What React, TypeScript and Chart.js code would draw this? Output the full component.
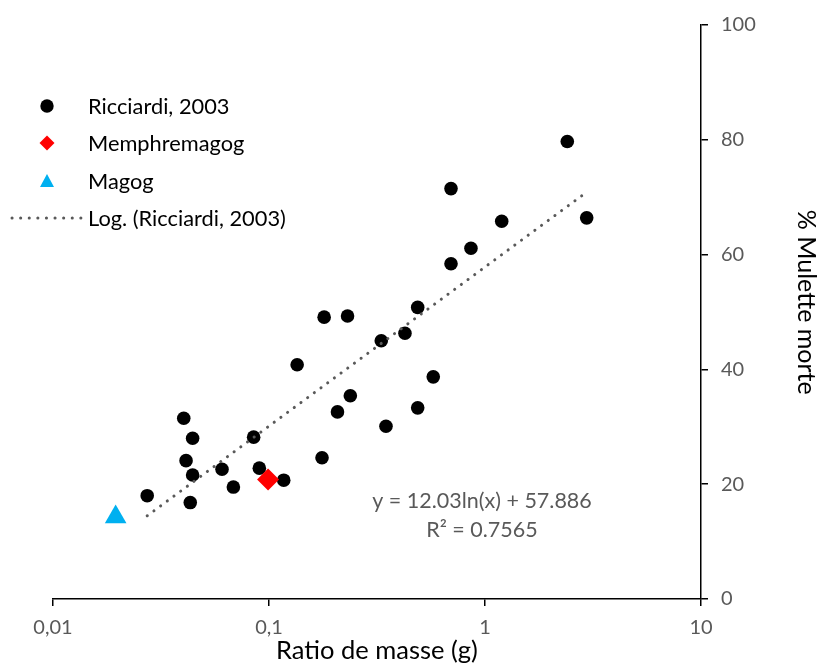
import React, { useEffect, useRef } from "react";
import { Chart, registerables } from "chart.js";

Chart.register(...registerables);

// ---- Data ----
const ricciardiX = [0.0273, 0.0403, 0.0443, 0.0413, 0.0443, 0.0432, 0.0606, 0.0684, 0.0849, 0.0902, 0.117, 0.135, 0.176, 0.180, 0.2075, 0.231, 0.238, 0.331, 0.348, 0.426, 0.488, 0.488, 0.576, 0.696, 0.696, 0.861, 1.195, 2.404, 2.957];
const ricciardiY = [18.0, 31.5, 28.0, 24.1, 21.6, 16.8, 22.6, 19.5, 28.2, 22.8, 20.7, 40.8, 24.6, 49.1, 32.6, 49.3, 35.4, 45.0, 30.1, 46.3, 50.8, 33.3, 38.7, 58.4, 71.5, 61.1, 65.8, 79.7, 66.4];
const memphremagogX = [0.099];
const memphremagogY = [20.8];
const magogX = [0.0195];
const magogY = [14.3];
const trendX = [0.0273, 2.96];
const trendY = [14.5, 70.9];
const xTickValues = [0.01, 0.1, 1, 10];
const equationText = "y = 12.03ln(x) + 57.886";
const r2Text = "R² = 0.7565";
const legendLabels = ["Ricciardi, 2003", "Memphremagog", "Magog", "Log. (Ricciardi, 2003)"];
const xTitle = "Ratio de masse (g)";
const yTitle = "% Mulette morte";

const FONT = "Lato, 'Open Sans', sans-serif";
const GRAY = "#595959";
const BLUE = "#00B0F0";
const RED = "#FF0000";

const toPts = (xs: number[], ys: number[]) => xs.map((x, i) => ({ x, y: ys[i] }));

const overlayPlugin = {
  id: "overlay",
  afterDraw(chart: any) {
    const ctx = chart.ctx as CanvasRenderingContext2D;
    const ca = chart.chartArea;
    ctx.save();
    // Legend
    const lx = 47;
    const tx = 88;
    const rows = [106, 143, 181, 218];
    ctx.font = `21.8px ${FONT}`;
    ctx.fillStyle = "#000";
    ctx.textBaseline = "middle";
    ctx.textAlign = "left";
    legendLabels.forEach((t, i) => ctx.fillText(t, tx, rows[i] + 1));
    // circle
    ctx.beginPath();
    ctx.fillStyle = "#000";
    ctx.arc(lx, rows[0], 6.7, 0, Math.PI * 2);
    ctx.fill();
    // diamond
    ctx.beginPath();
    ctx.fillStyle = RED;
    const d = 7.5;
    ctx.moveTo(lx, rows[1] - d);
    ctx.lineTo(lx + d, rows[1]);
    ctx.lineTo(lx, rows[1] + d);
    ctx.lineTo(lx - d, rows[1]);
    ctx.closePath();
    ctx.fill();
    // triangle
    ctx.beginPath();
    ctx.fillStyle = BLUE;
    ctx.moveTo(lx, rows[2] - 7);
    ctx.lineTo(lx + 7, rows[2] + 6);
    ctx.lineTo(lx - 7, rows[2] + 6);
    ctx.closePath();
    ctx.fill();
    // dotted line
    ctx.beginPath();
    ctx.strokeStyle = GRAY;
    ctx.lineWidth = 3;
    ctx.lineCap = "round";
    ctx.setLineDash([0.1, 8.5]);
    ctx.moveTo(12, rows[3]);
    ctx.lineTo(81, rows[3]);
    ctx.stroke();
    ctx.setLineDash([]);

    // Equation annotation
    ctx.font = `21.5px ${FONT}`;
    ctx.fillStyle = GRAY;
    ctx.textAlign = "center";
    const ax = ca.left + (ca.right - ca.left) * 0.662;
    const h = ca.bottom - ca.top;
    ctx.fillText(equationText, ax, ca.top + h * 0.829);
    ctx.fillText(r2Text, ax, ca.top + h * 0.88);

    // Y axis title (rotated, reading top to bottom)
    ctx.translate(chart.width - 12, ca.top + h * 0.483);
    ctx.rotate(Math.PI / 2);
    ctx.font = `25px ${FONT}`;
    ctx.fillStyle = "#000";
    ctx.textAlign = "center";
    ctx.textBaseline = "middle";
    ctx.fillText(yTitle, 0, 0);
    ctx.restore();
  },
};

export default function App() {
  const ref = useRef<HTMLCanvasElement | null>(null);
  useEffect(() => {
    if (!ref.current) return;
    const chart = new Chart(ref.current, {
      type: "scatter",
      data: {
        datasets: [
          {
            label: legendLabels[3],
            data: toPts(trendX, trendY),
            showLine: true,
            pointRadius: 0,
            borderColor: GRAY,
            borderWidth: 3,
            borderDash: [0.1, 8.2],
            borderCapStyle: "round",
            order: 0,
          } as any,
          {
            label: legendLabels[1],
            data: toPts(memphremagogX, memphremagogY),
            pointStyle: "rectRot",
            pointRadius: 11,
            backgroundColor: RED,
            borderWidth: 0,
            order: 1,
          },
          {
            label: legendLabels[2],
            data: toPts(magogX, magogY),
            pointStyle: "triangle",
            pointRadius: 12.5,
            backgroundColor: BLUE,
            borderWidth: 0,
            order: 2,
          },
          {
            label: legendLabels[0],
            data: toPts(ricciardiX, ricciardiY),
            pointStyle: "circle",
            pointRadius: 6.8,
            backgroundColor: "#000",
            borderWidth: 0,
            order: 3,
          },
        ],
      },
      options: {
        responsive: false,
        animation: false,
        layout: { padding: { left: 53, top: 24, right: 0, bottom: 0 } },
        plugins: { legend: { display: false }, tooltip: { enabled: false } },
        scales: {
          x: {
            type: "logarithmic",
            min: 0.01,
            max: 10,
            afterBuildTicks: (scale: any) => {
              scale.ticks = xTickValues.map((v) => ({ value: v, major: true }));
            },
            afterFit: (scale: any) => {
              scale.height = 67;
            },
            border: { display: true, color: "#000", width: 1.5 },
            grid: { display: true, drawOnChartArea: false, drawTicks: true, tickLength: 7, color: "#000", lineWidth: 1.5 },
            ticks: {
              color: GRAY,
              font: { family: FONT, size: 20 },
              padding: 10,
              maxRotation: 0,
              autoSkip: false,
              callback: (v: any) => String(v).replace(".", ","),
            },
            title: { display: true, text: xTitle, color: "#000", font: { family: FONT, size: 25.5 }, padding: { top: 0, bottom: 0 } },
          },
          y: {
            position: "right",
            min: 0,
            max: 100,
            afterFit: (scale: any) => {
              scale.width = 117;
            },
            border: { display: true, color: "#000", width: 1.5 },
            grid: { display: true, drawOnChartArea: false, drawTicks: true, tickLength: 7, color: "#000", lineWidth: 1.5 },
            ticks: { stepSize: 20, color: GRAY, font: { family: FONT, size: 20 }, padding: 13 },
            title: { display: false },
          },
        },
      },
      plugins: [overlayPlugin],
    });
    return () => chart.destroy();
  }, []);
  return (
    <div style={{ position: "absolute", left: 0, top: 0, width: 818, height: 666, background: "#fff" }}>
      <canvas ref={ref} width={818} height={666} />
    </div>
  );
}
